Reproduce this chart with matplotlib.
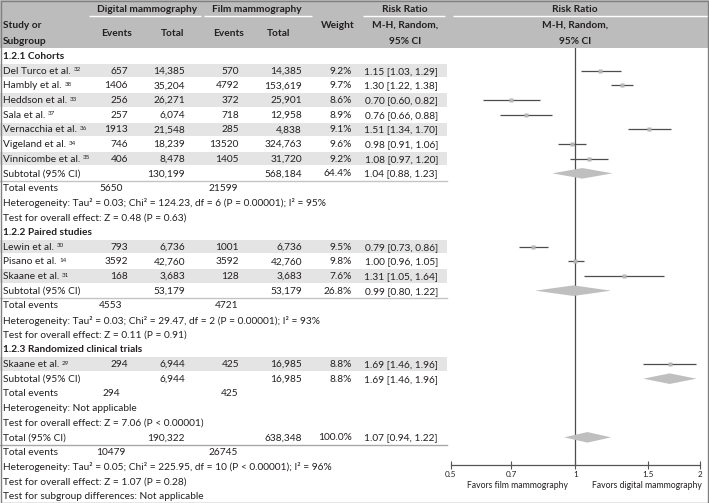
import matplotlib
matplotlib.use("Agg")
import matplotlib.pyplot as plt
from matplotlib.patches import Rectangle, Polygon
from matplotlib.ticker import NullLocator

plt.rcParams['font.family'] = ['Lato', 'DejaVu Sans']

# ---------------- data ----------------
studies = ["Del Turco et al.", "Hambly et al.", "Heddson et al.", "Sala et al.",
           "Vernacchia et al.", "Vigeland et al.", "Vinnicombe et al.",
           "Lewin et al.", "Pisano et al.", "Skaane et al.", "Skaane et al."]
refs = ["32", "38", "33", "37", "36", "34", "35", "30", "14", "31", "29"]
group = [0, 0, 0, 0, 0, 0, 0, 1, 1, 1, 2]
dig_events = [657, 1406, 256, 257, 1913, 746, 406, 793, 3592, 168, 294]
dig_total = [14385, 35204, 26271, 6074, 21548, 18239, 8478, 6736, 42760, 3683, 6944]
film_events = [570, 4792, 372, 718, 285, 13520, 1405, 1001, 3592, 128, 425]
film_total = [14385, 153619, 25901, 12958, 4838, 324763, 31720, 6736, 42760, 3683, 16985]
weights = [9.2, 9.7, 8.6, 8.9, 9.1, 9.6, 9.2, 9.5, 9.8, 7.6, 8.8]
rr = [1.15, 1.30, 0.70, 0.76, 1.51, 0.98, 1.08, 0.79, 1.00, 1.31, 1.69]
rr_lo = [1.03, 1.22, 0.60, 0.66, 1.34, 0.91, 0.97, 0.73, 0.96, 1.05, 1.46]
rr_hi = [1.29, 1.38, 0.82, 0.88, 1.70, 1.06, 1.20, 0.86, 1.05, 1.64, 1.96]

sub_names = ["1.2.1 Cohorts", "1.2.2 Paired studies", "1.2.3 Randomized clinical trials"]
sub_dig_total = [130199, 53179, 6944]
sub_film_total = [568184, 53179, 16985]
sub_weight = [64.4, 26.8, 8.8]
sub_rr = [1.04, 0.99, 1.69]
sub_lo = [0.88, 0.80, 1.46]
sub_hi = [1.23, 1.22, 1.96]
sub_dig_events = [5650, 4553, 294]
sub_film_events = [21599, 4721, 425]
sub_het = ["Heterogeneity: Tau\u00b2 = 0.03; Chi\u00b2 = 124.23, df = 6 (P = 0.00001); I\u00b2 = 95%",
           "Heterogeneity: Tau\u00b2 = 0.03; Chi\u00b2 = 29.47, df = 2 (P = 0.00001); I\u00b2 = 93%",
           "Heterogeneity: Not applicable"]
sub_test = ["Test for overall effect: Z = 0.48 (P = 0.63)",
            "Test for overall effect: Z = 0.11 (P = 0.91)",
            "Test for overall effect: Z = 7.06 (P < 0.00001)"]

tot_dig_total = 190322
tot_film_total = 638348
tot_weight = 100.0
tot_rr, tot_lo, tot_hi = 1.07, 0.94, 1.22
tot_dig_events = 10479
tot_film_events = 26745
tot_het = "Heterogeneity: Tau\u00b2 = 0.05; Chi\u00b2 = 225.95, df = 10 (P < 0.00001); I\u00b2 = 96%"
tot_test = "Test for overall effect: Z = 1.07 (P = 0.28)"
tot_sub = "Test for subgroup differences: Not applicable"

x_ticks = [0.5, 0.7, 1, 1.5, 2]
x_ticklabels = ["0.5", "0.7", "1", "1.5", "2"]
favors_left = "Favors film mammography"
favors_right = "Favors digital mammography"

# ---------------- layout ----------------
W, H = 709, 503
Y0, RH = 56.0, 14.667
HDR = 48
AX_Y = 465
TXT = '#231f20'
BAND = '#e4e4e4'
HEADER = '#bcbcbc'

fig = plt.figure(figsize=(W / 100, H / 100), dpi=100)
tab = fig.add_axes([0, 0, 1, 1])
tab.set_xlim(0, W)
tab.set_ylim(H, 0)
tab.axis('off')

# fit the body font size to the reference text width
renderer = fig.canvas.get_renderer()
probe = tab.text(0, 0, sub_het[0], fontsize=10)
wpx = probe.get_window_extent(renderer).width
probe.remove()
FS = 10 * 322.0 / wpx
SUP = FS * 0.62


def ry(i):
    return Y0 + i * RH


def put(x, y, s, ha='left', **kw):
    kw.setdefault('fontsize', FS)
    kw.setdefault('color', TXT)
    return tab.text(x, y + 0.5, s, ha=ha, va='center', **kw)


# header
tab.add_patch(Rectangle((0, 0), W, HDR, facecolor=HEADER, edgecolor='none', zorder=0))
for x0, x1 in [(89, 201), (204, 312), (363, 445), (453, W)]:
    tab.plot([x0, x1], [16, 16], color='white', lw=1.0, solid_capstyle='butt')
hk = dict(fontweight='bold')
put(147, 8.5, "Digital mammography", ha='center', **hk)
put(257, 8.5, "Film mammography", ha='center', **hk)
put(405, 8.5, "Risk Ratio", ha='center', **hk)
put(575, 8.5, "Risk Ratio", ha='center', **hk)
put(3, 25, "Study or", **hk)
put(3, 41, "Subgroup", **hk)
put(117, 33, "Events", ha='center', **hk)
put(173, 33, "Total", ha='center', **hk)
put(229, 33, "Events", ha='center', **hk)
put(279, 33, "Total", ha='center', **hk)
put(338, 25, "Weight", ha='center', **hk)
put(405, 25, "M-H, Random,", ha='center', **hk)
put(405, 41, "95% CI", ha='center', **hk)
put(575, 25, "M-H, Random,", ha='center', **hk)
put(575, 41, "95% CI", ha='center', **hk)

# forest axes
ax = fig.add_axes([450.5 / W, (H - AX_Y) / H, (700 - 450.5) / W, (AX_Y - HDR) / H])
ax.set_xscale('log')
ax.set_xlim(0.5, 2)
ax.set_ylim((AX_Y - Y0) / RH, (HDR - Y0) / RH)
ax.patch.set_alpha(0)
for s in ['top', 'left', 'right']:
    ax.spines[s].set_visible(False)
ax.spines['bottom'].set_color('#555555')
ax.spines['bottom'].set_linewidth(0.9)
ax.set_yticks([])
ax.set_xticks(x_ticks)
ax.set_xticklabels(x_ticklabels)
ax.xaxis.set_minor_locator(NullLocator())
ax.tick_params(axis='x', direction='inout', length=6, width=0.8, colors='#555555',
               labelcolor=TXT, labelsize=FS * 0.8, pad=1)
ax.axvline(1, color='#4d4d4d', lw=0.9, zorder=1)
ax.annotate(favors_left, xy=(1, 0), xycoords=('data', 'axes fraction'), xytext=(-5, -14.5),
            textcoords='offset points', ha='right', va='center', fontsize=FS * 0.85, color=TXT)
ax.annotate(favors_right, xy=(1, 0), xycoords=('data', 'axes fraction'), xytext=(12, -14.5),
            textcoords='offset points', ha='left', va='center', fontsize=FS * 0.85, color=TXT)


def diamond(y, c, lo, hi):
    h = 0.36
    ax.add_patch(Polygon([(lo, y), (c, y - h), (hi, y), (c, y + h)], closed=True,
                         facecolor='#bfbfbf', edgecolor='none', zorder=2))


# rows
i = 0
for g in range(3):
    put(3, ry(i), sub_names[g], fontweight='bold')
    i += 1
    members = [k for k in range(len(studies)) if group[k] == g]
    for j, k in enumerate(members):
        y = ry(i)
        if j % 2 == 0:
            tab.add_patch(Rectangle((0, y - RH / 2 + 0.6), 447, RH - 1.2, facecolor=BAND,
                                    edgecolor='none', zorder=0))
        t = put(3, y, studies[k])
        tab.annotate(refs[k], xy=(1, 1), xycoords=t, xytext=(2, -0.5), textcoords='offset points',
                     ha='left', va='top', fontsize=SUP, color=TXT)
        put(128, y, f"{dig_events[k]}", ha='right')
        put(185, y, f"{dig_total[k]:,}", ha='right')
        put(239, y, f"{film_events[k]}", ha='right')
        put(302, y, f"{film_total[k]:,}", ha='right')
        put(352, y, f"{weights[k]:.1f}%", ha='right')
        put(438, y, f"{rr[k]:.2f} [{rr_lo[k]:.2f}, {rr_hi[k]:.2f}]", ha='right')
        ax.hlines(i, rr_lo[k], rr_hi[k], color='#4d4d4d', lw=0.9, zorder=2)
        ax.plot(rr[k], i, 's', ms=3.2, color='#b5b5b5', mec='none', zorder=3)
        i += 1
    y = ry(i)
    put(3, y, "Subtotal (95% CI)")
    put(185, y, f"{sub_dig_total[g]:,}", ha='right')
    put(302, y, f"{sub_film_total[g]:,}", ha='right')
    put(352, y, f"{sub_weight[g]:.1f}%", ha='right')
    put(438, y, f"{sub_rr[g]:.2f} [{sub_lo[g]:.2f}, {sub_hi[g]:.2f}]", ha='right')
    diamond(i, sub_rr[g], sub_lo[g], sub_hi[g])
    if g < 2:
        tab.plot([0, 447], [y + RH / 2, y + RH / 2], color='#c4c4c4', lw=1.0)
    i += 1
    y = ry(i)
    put(3, y, "Total events")
    put(111, y, f"{sub_dig_events[g]}", ha='center')
    put(238, y, f"{sub_film_events[g]}", ha='right')
    i += 1
    put(3, ry(i), sub_het[g])
    i += 1
    put(3, ry(i), sub_test[g])
    i += 1

y = ry(i)
put(3, y, "Total (95% CI)")
put(185, y, f"{tot_dig_total:,}", ha='right')
put(302, y, f"{tot_film_total:,}", ha='right')
put(352, y, f"{tot_weight:.1f}%", ha='right')
put(438, y, f"{tot_rr:.2f} [{tot_lo:.2f}, {tot_hi:.2f}]", ha='right')
diamond(i, tot_rr, tot_lo, tot_hi)
tab.plot([0, 447], [y + RH / 2, y + RH / 2], color='#a8a8a8', lw=1.0)
i += 1
y = ry(i)
put(3, y, "Total events")
put(111, y, f"{tot_dig_events}", ha='center')
put(238, y, f"{tot_film_events}", ha='right')
i += 1
put(3, ry(i), tot_het)
i += 1
put(3, ry(i), tot_test)
i += 1
put(3, ry(i), tot_sub)

# outer frame
fig.patches.append(Rectangle((0.5 / W, 0.5 / H), (W - 1.5) / W, (H - 1.5) / H, transform=fig.transFigure,
                             fill=False, edgecolor='#808080', lw=1.0))

fig.savefig("out.png", dpi=100)
